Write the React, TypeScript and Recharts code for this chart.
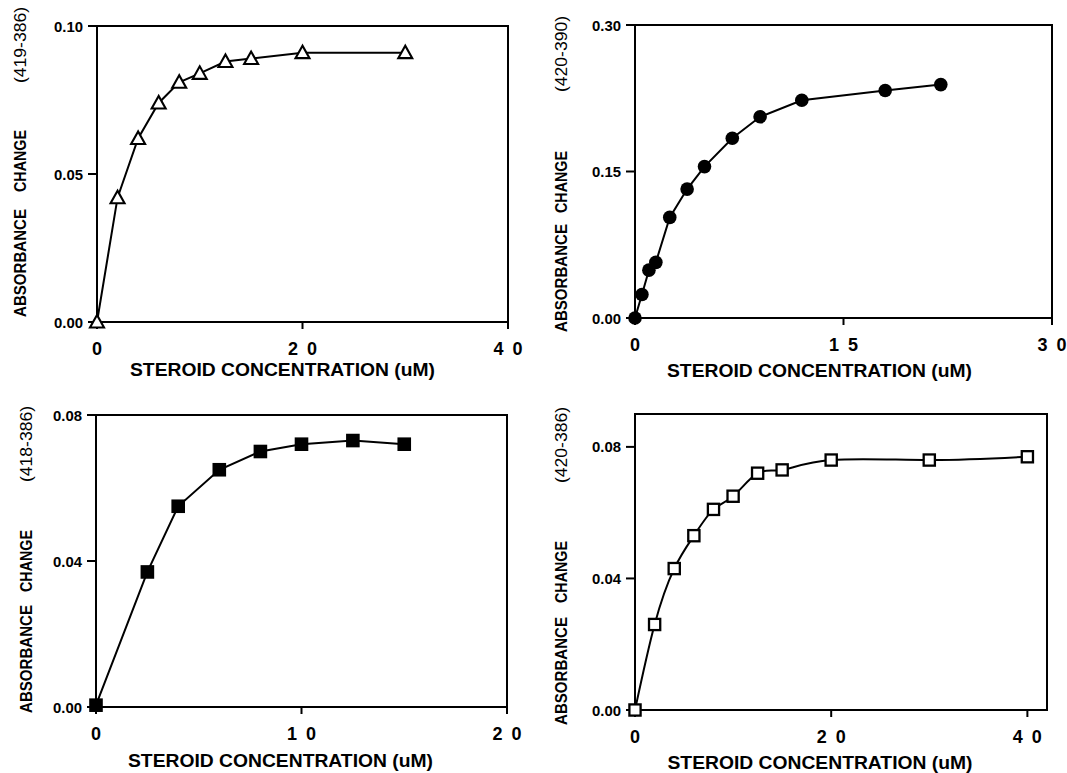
import React from 'react';
import { LineChart, Line, XAxis, YAxis, ReferenceArea } from 'recharts';

const FONT = '"Liberation Sans", Arial, Helvetica, sans-serif';

// top left: (419-386), open triangles
const concA = [0, 2, 4, 6, 8, 10, 12.5, 15, 20, 30];
const absA = [0, 0.042, 0.062, 0.074, 0.081, 0.084, 0.088, 0.089, 0.091, 0.091];

// top right: (420-390), filled circles
const concB = [0, 0.5, 1, 1.5, 2.5, 3.75, 5, 7, 9, 12, 18, 22];
const absB = [0, 0.024, 0.049, 0.057, 0.103, 0.132, 0.155, 0.184, 0.206, 0.223, 0.233, 0.239];

// bottom left: (418-386), filled squares
const concC = [0, 2.5, 4, 6, 8, 10, 12.5, 15];
const absC = [0.0005, 0.037, 0.055, 0.065, 0.07, 0.072, 0.073, 0.072];

// bottom right: (420-386), open squares
const concD = [0, 2, 4, 6, 8, 10, 12.5, 15, 20, 30, 40];
const absD = [0, 0.026, 0.043, 0.053, 0.061, 0.065, 0.072, 0.073, 0.076, 0.076, 0.077];

const xTicksA = [0, 20, 40];
const yTicksA = [0, 0.05, 0.1];
const xTicksB = [0, 15, 30];
const yTicksB = [0, 0.15, 0.3];
const xTicksC = [0, 10, 20];
const yTicksC = [0, 0.04, 0.08];
const xTicksD = [0, 20, 40];
const yTicksD = [0, 0.04, 0.08];

const X_TITLE = 'STEROID CONCENTRATION (uM)';

const toRows = (xs: number[], ys: number[]) => xs.map((x, i) => ({ x, y: ys[i] }));

type Marker = 'triangle' | 'circle' | 'square' | 'openSquare';

const makeDot = (kind: Marker) => (p: any) => {
  const { cx, cy, index } = p;
  if (cx == null || cy == null) return <g key={index} />;
  if (kind === 'triangle') {
    const pts = `${cx},${cy - 7} ${cx - 7},${cy + 5.5} ${cx + 7},${cy + 5.5}`;
    return <polygon key={index} points={pts} fill="#fff" stroke="#000" strokeWidth={2.1} />;
  }
  if (kind === 'circle') return <circle key={index} cx={cx} cy={cy} r={6.8} fill="#000" />;
  if (kind === 'square')
    return <rect key={index} x={cx - 6.8} y={cy - 6.8} width={13.6} height={13.6} fill="#000" />;
  return (
    <rect key={index} x={cx - 5.6} y={cy - 5.6} width={11.2} height={11.2} fill="#fff" stroke="#000" strokeWidth={2.3} />
  );
};

// the original prints the digits of the x ticks apart: "2 0", "4 0"
const spaced = (v: number) => String(v).split('').join('\u2002');

const XTick = (p: any) => (
  <text
    x={p.x}
    y={p.y}
    dy="0.71em"
    textAnchor="middle"
    fontFamily={FONT}
    fontWeight="bold"
    fontSize={18}
    fill="#000"
  >
    {spaced(p.payload.value)}
  </text>
);

const YTick = (p: any) => (
  <text
    x={p.x}
    y={p.y}
    dy="0.355em"
    textAnchor="end"
    fontFamily={FONT}
    fontWeight="bold"
    fontSize={15.5}
    textLength={29}
    lengthAdjust="spacingAndGlyphs"
    fill="#000"
  >
    {Number(p.payload.value).toFixed(2)}
  </text>
);

interface PanelProps {
  data: Array<{ x: number; y: number }>;
  xDomain: [number, number];
  xTicks: number[];
  yDomain: [number, number];
  yTicks: number[];
  box: [number, number, number, number];
  marker: Marker;
  curve: 'linear' | 'natural';
  band: string;
  yTitleX: number;
  yTitleStarts: [number, number, number];
  xTitleGap: number;
  xTitleShift: number;
}

const YW = 100;
const MT = 20;
const MR = 15;
const XH = 70;

function Panel(props: PanelProps) {
  const { data, xDomain, xTicks, yDomain, yTicks, box, marker, curve, band } = props;
  const [x0, y0, x1, y1] = box;
  const left = x0 - YW;
  const top = y0 - MT;
  const w = x1 - x0;
  const h = y1 - y0;
  const width = YW + w + MR;
  const height = MT + h + XH;

  const lineStyle = { stroke: '#000', strokeWidth: 2 };

  const XTitle = () => (
    <text
      x={YW + w / 2 + props.xTitleShift}
      y={MT + h + props.xTitleGap}
      textAnchor="middle"
      fontFamily={FONT}
      fontWeight="bold"
      fontSize={19}
      textLength={305}
      lengthAdjust="spacingAndGlyphs"
      fill="#000"
    >
      {X_TITLE}
    </text>
  );

  const tx = props.yTitleX - left;
  const [sAbs, sChg, sBand] = props.yTitleStarts.map((s) => s - top);
  const piece = (s: number, txt: string, bold: boolean, len: number) => (
    <text
      x={tx}
      y={s}
      transform={`rotate(-90 ${tx} ${s})`}
      textAnchor="start"
      dominantBaseline="central"
      fontFamily={FONT}
      fontWeight={bold ? 'bold' : 'normal'}
      fontSize={17}
      textLength={len}
      lengthAdjust="spacingAndGlyphs"
      fill="#000"
    >
      {txt}
    </text>
  );
  const YTitle = () => (
    <g>
      {piece(sAbs, 'ABSORBANCE', true, 108)}
      {piece(sChg, 'CHANGE', true, 62)}
      {piece(sBand, band, false, 76)}
    </g>
  );

  return (
    <div style={{ position: 'absolute', left, top, width, height }}>
      <LineChart width={width} height={height} data={data} margin={{ top: MT, right: MR, left: 0, bottom: 0 }}>
        <ReferenceArea
          x1={xDomain[0]}
          x2={xDomain[1]}
          y1={yDomain[0]}
          y2={yDomain[1]}
          fill="none"
          stroke="#000"
          strokeWidth={2}
        />
        <XAxis
          type="number"
          dataKey="x"
          domain={xDomain}
          ticks={xTicks}
          height={XH}
          tickSize={7}
          tickMargin={13}
          tick={XTick}
          axisLine={lineStyle}
          tickLine={lineStyle}
          label={{ content: XTitle }}
        />
        <YAxis
          type="number"
          domain={yDomain}
          ticks={yTicks}
          width={YW}
          tickSize={9}
          tickMargin={5}
          tick={YTick}
          axisLine={lineStyle}
          tickLine={lineStyle}
          label={{ content: YTitle }}
        />
        <Line
          type={curve}
          dataKey="y"
          stroke="#000"
          strokeWidth={2}
          dot={makeDot(marker)}
          activeDot={false}
          isAnimationActive={false}
        />
      </LineChart>
    </div>
  );
}

export default function App() {
  return (
    <div
      style={{
        position: 'absolute',
        left: 0,
        top: 0,
        width: 1067,
        height: 773,
        overflow: 'hidden',
        background: '#fff',
      }}
    >
      <Panel
        data={toRows(concA, absA)}
        xDomain={[0, 40]}
        xTicks={xTicksA}
        yDomain={[0, 0.1]}
        yTicks={yTicksA}
        box={[97, 26, 508, 322]}
        marker="triangle"
        curve="linear"
        band="(419-386)"
        yTitleX={20}
        yTitleStarts={[317, 192, 83]}
        xTitleGap={54}
        xTitleShift={-20}
      />
      <Panel
        data={toRows(concB, absB)}
        xDomain={[0, 30]}
        xTicks={xTicksB}
        yDomain={[0, 0.3]}
        yTicks={yTicksB}
        box={[635, 25, 1052, 318]}
        marker="circle"
        curve="linear"
        band="(420-390)"
        yTitleX={561}
        yTitleStarts={[332, 213, 92]}
        xTitleGap={59}
        xTitleShift={-24}
      />
      <Panel
        data={toRows(concC, absC)}
        xDomain={[0, 20]}
        xTicks={xTicksC}
        yDomain={[0, 0.08]}
        yTicks={yTicksC}
        box={[96, 415, 507, 707]}
        marker="square"
        curve="linear"
        band="(418-386)"
        yTitleX={26}
        yTitleStarts={[713, 592, 482]}
        xTitleGap={60}
        xTitleShift={-21}
      />
      <Panel
        data={toRows(concD, absD)}
        xDomain={[0, 42]}
        xTicks={xTicksD}
        yDomain={[0, 0.09]}
        yTicks={yTicksD}
        box={[635, 414, 1047, 710]}
        marker="openSquare"
        curve="natural"
        band="(420-386)"
        yTitleX={561}
        yTitleStarts={[725, 603, 483]}
        xTitleGap={59}
        xTitleShift={-21}
      />
    </div>
  );
}
